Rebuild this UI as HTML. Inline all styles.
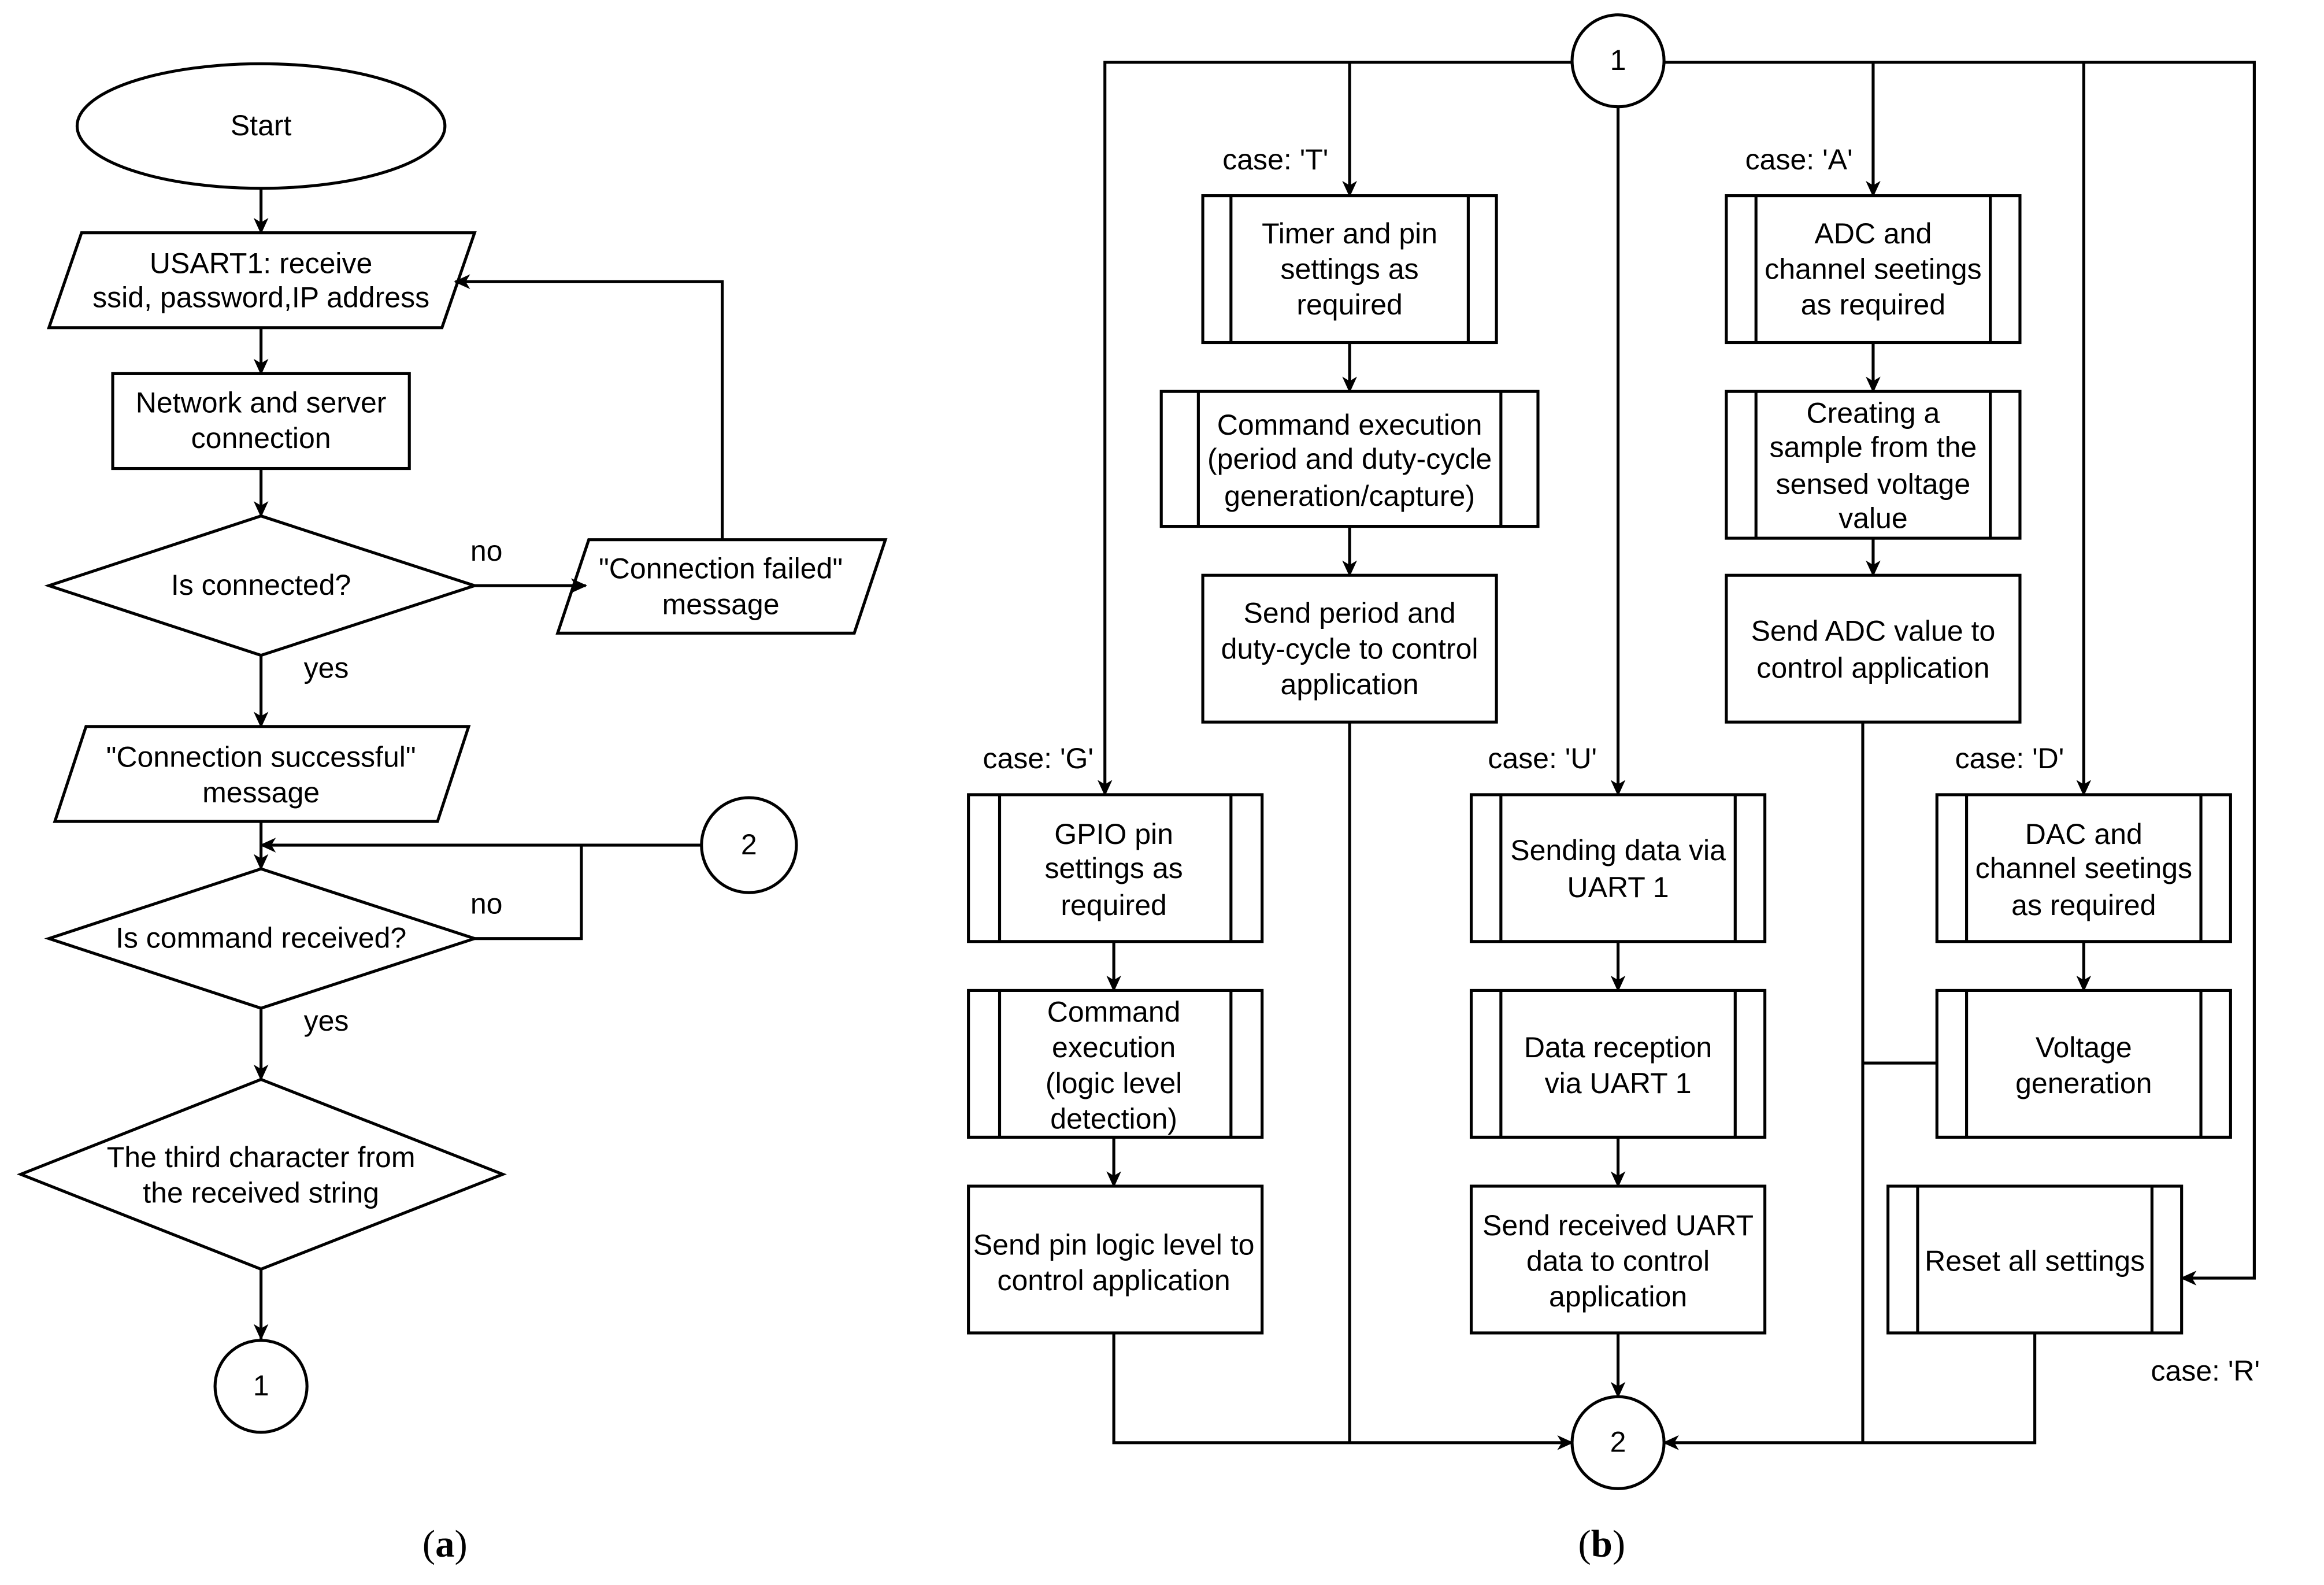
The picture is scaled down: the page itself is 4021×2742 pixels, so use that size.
<!DOCTYPE html>
<html><head><meta charset="utf-8"><style>
html,body{margin:0;padding:0;background:#fff;}
svg{display:block;}
text{font-family:"Liberation Sans",sans-serif;font-size:19.5px;fill:#000;text-anchor:middle;dominant-baseline:middle;}
.s{font-family:"Liberation Serif",serif;font-size:26px;}
</style></head><body>
<svg width="4021" height="2742" viewBox="0 0 1567 1069" preserveAspectRatio="none" xmlns="http://www.w3.org/2000/svg">
<defs><marker id="a" markerWidth="12" markerHeight="12" refX="10" refY="6" orient="auto" markerUnits="userSpaceOnUse"><path d="M0,1 L11,6 L0,11 L3,6 Z" fill="#000"/></marker></defs>
<g fill="none" stroke="#000" stroke-width="2">
<ellipse cx="176" cy="85" rx="124" ry="42"/>
<path d="M176,127V157" marker-end="url(#a)"/>
<polygon points="55,157 320,157 298,221 33,221"/>
<path d="M176,221V252" marker-end="url(#a)"/>
<rect x="76" y="252" width="200" height="64"/>
<path d="M176,316V348" marker-end="url(#a)"/>
<polygon points="176,348 320,395 176,442 33,395"/>
<path d="M320,395H395" marker-end="url(#a)"/>
<polygon points="397,364 597,364 576,427 376,427"/>
<path d="M487,364V190H307" marker-end="url(#a)"/>
<path d="M176,442V490" marker-end="url(#a)"/>
<polygon points="58,490 316,490 295,554 37,554"/>
<path d="M176,554V586" marker-end="url(#a)"/>
<circle cx="505" cy="570" r="32"/>
<path d="M473,570H176" marker-end="url(#a)"/>
<polygon points="176,586 320,633 176,680 33,633"/>
<path d="M320,633H392V570"/>
<path d="M176,680V728" marker-end="url(#a)"/>
<polygon points="176,728 339,792 176,856 14,792"/>
<path d="M176,856V903" marker-end="url(#a)"/>
<circle cx="176" cy="935" r="31"/>
<circle cx="1091" cy="41" r="31"/>
<path d="M1060,42H745V536" marker-end="url(#a)"/>
<path d="M910,42V132" marker-end="url(#a)"/>
<path d="M1122,42H1520V862H1471" marker-end="url(#a)"/>
<path d="M1091,72V536" marker-end="url(#a)"/>
<path d="M1263,42V132" marker-end="url(#a)"/>
<path d="M1405,42V536" marker-end="url(#a)"/>
<rect x="811" y="132" width="198" height="99"/><path d="M830,132V231M990,132V231"/>
<path d="M910,231V264" marker-end="url(#a)"/>
<rect x="783" y="264" width="254" height="91"/><path d="M808,264V355M1012,264V355"/>
<path d="M910,355V388" marker-end="url(#a)"/>
<rect x="811" y="388" width="198" height="99"/>
<rect x="1164" y="132" width="198" height="99"/><path d="M1184,132V231M1342,132V231"/>
<path d="M1263,231V264" marker-end="url(#a)"/>
<rect x="1164" y="264" width="198" height="99"/><path d="M1184,264V363M1342,264V363"/>
<path d="M1263,363V388" marker-end="url(#a)"/>
<rect x="1164" y="388" width="198" height="99"/>
<rect x="653" y="536" width="198" height="99"/><path d="M674,536V635M830,536V635"/>
<path d="M751,635V668" marker-end="url(#a)"/>
<rect x="653" y="668" width="198" height="99"/><path d="M674,668V767M830,668V767"/>
<path d="M751,767V800" marker-end="url(#a)"/>
<rect x="653" y="800" width="198" height="99"/>
<rect x="992" y="536" width="198" height="99"/><path d="M1012,536V635M1170,536V635"/>
<path d="M1091,635V668" marker-end="url(#a)"/>
<rect x="992" y="668" width="198" height="99"/><path d="M1012,668V767M1170,668V767"/>
<path d="M1091,767V800" marker-end="url(#a)"/>
<rect x="992" y="800" width="198" height="99"/>
<rect x="1306" y="536" width="198" height="99"/><path d="M1326,536V635M1484,536V635"/>
<path d="M1405,635V668" marker-end="url(#a)"/>
<rect x="1306" y="668" width="198" height="99"/><path d="M1326,668V767M1484,668V767"/>
<rect x="1273" y="800" width="198" height="99"/><path d="M1293,800V899M1451,800V899"/>
<circle cx="1091" cy="973" r="31"/>
<path d="M1091,899V942" marker-end="url(#a)"/>
<path d="M751,899V973H1060" marker-end="url(#a)"/>
<path d="M910,487V973"/>
<path d="M1372,899V973H1122" marker-end="url(#a)"/>
<path d="M1256,487V973M1256,717H1306"/>
</g>
<text x="176" y="86">Start</text>
<text x="176" y="179">USART1: receive</text>
<text x="176" y="202">ssid, password,IP address</text>
<text x="176" y="273">Network and server</text>
<text x="176" y="297">connection</text>
<text x="176" y="396">Is connected?</text>
<text x="328" y="373">no</text>
<text x="486" y="385">"Connection failed"</text>
<text x="486" y="409">message</text>
<text x="220" y="452">yes</text>
<text x="176" y="512">"Connection successful"</text>
<text x="176" y="536">message</text>
<text x="505" y="571">2</text>
<text x="176" y="634">Is command received?</text>
<text x="328" y="611">no</text>
<text x="220" y="690">yes</text>
<text x="176" y="782">The third character from</text>
<text x="176" y="806">the received string</text>
<text x="176" y="936">1</text>
<text class="s" x="300" y="1044">(<tspan font-weight="bold">a</tspan>)</text>
<text x="1091" y="42">1</text>
<text x="860" y="109">case: 'T'</text>
<text x="1213" y="109">case: 'A'</text>
<text x="700" y="513">case: 'G'</text>
<text x="1040" y="513">case: 'U'</text>
<text x="1355" y="513">case: 'D'</text>
<text x="1487" y="926">case: 'R'</text>
<text x="910" y="159">Timer and pin</text><text x="910" y="183">settings as</text><text x="910" y="207">required</text>
<text x="910" y="288">Command execution</text><text x="910" y="311">(period and duty-cycle</text><text x="910" y="336">generation/capture)</text>
<text x="910" y="415">Send period and</text><text x="910" y="439">duty-cycle to control</text><text x="910" y="463">application</text>
<text x="1263" y="159">ADC and</text><text x="1263" y="183">channel seetings</text><text x="1263" y="207">as required</text>
<text x="1263" y="280">Creating a</text><text x="1263" y="303">sample from the</text><text x="1263" y="328">sensed voltage</text><text x="1263" y="351">value</text>
<text x="1263" y="427">Send ADC value to</text><text x="1263" y="452">control application</text>
<text x="751" y="564">GPIO pin</text><text x="751" y="587">settings as</text><text x="751" y="612">required</text>
<text x="751" y="684">Command</text><text x="751" y="708">execution</text><text x="751" y="732">(logic level</text><text x="751" y="756">detection)</text>
<text x="751" y="841">Send pin logic level to</text><text x="751" y="865">control application</text>
<text x="1091" y="575">Sending data via</text><text x="1091" y="600">UART 1</text>
<text x="1091" y="708">Data reception</text><text x="1091" y="732">via UART 1</text>
<text x="1091" y="828">Send received UART</text><text x="1091" y="852">data to control</text><text x="1091" y="876">application</text>
<text x="1405" y="564">DAC and</text><text x="1405" y="587">channel seetings</text><text x="1405" y="612">as required</text>
<text x="1405" y="708">Voltage</text><text x="1405" y="732">generation</text>
<text x="1372" y="852">Reset all settings</text>
<text x="1091" y="974">2</text>
<text class="s" x="1080" y="1044">(<tspan font-weight="bold">b</tspan>)</text>
</svg>
</body></html>
